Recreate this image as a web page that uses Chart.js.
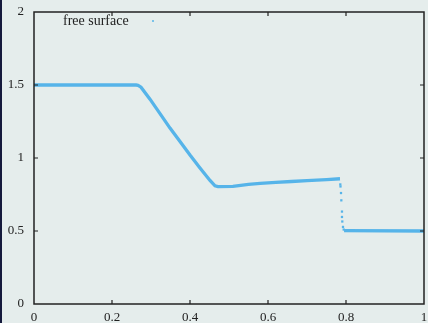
<!DOCTYPE html>
<html>
<head>
<meta charset="utf-8">
<script src="https://cdn.jsdelivr.net/npm/chart.js@4/dist/chart.umd.min.js"></script>
<style>
  html, body { margin: 0; padding: 0; background: #e5edec; }
  #wrap { position: relative; width: 428px; height: 323px; overflow: hidden; }
  #edge { position: absolute; left: 0; top: 0; width: 2px; height: 323px; background: #151a3c; }
  canvas { position: absolute; left: 0; top: 0; }
</style>
</head>
<body>
<div id="wrap">
  <canvas id="c" width="428" height="323"></canvas>
  <div id="edge"></div>
</div>
<script>
// Free-surface height h along the channel (dam-break profile)
const surfaceX = [0, 0.262, 0.2667, 0.2744, 0.2821, 0.2974, 0.3231, 0.3487, 0.3744, 0.4, 0.4256, 0.4513, 0.4641, 0.4718,
                  0.51, 0.53, 0.55, 0.58, 0.62, 0.66, 0.70, 0.75, 0.7846, 0.79, 0.795, 1.0];
const surfaceH = [1.5, 1.5, 1.498, 1.485, 1.457, 1.403, 1.304, 1.205, 1.113, 1.020, 0.932, 0.846, 0.809, 0.804,
                  0.805, 0.812, 0.819, 0.826, 0.833, 0.839, 0.845, 0.852, 0.858, null, 0.503, 0.5];
// Scattered particles inside the bore front
const frontX = [0.7854, 0.7859, 0.7872, 0.788, 0.7897, 0.7897, 0.7905, 0.7923, 0.7941];
const frontH = [0.819, 0.805, 0.760, 0.710, 0.633, 0.596, 0.565, 0.528, 0.510];
// Axis ranges and tick steps
const xRange = [0, 1], xStep = 0.2;
const yRange = [0, 2], yStep = 0.5;
const seriesLabel = 'free surface';

const lineColor = '#56b4e9';
const inkColor = '#222222';
const serif = "'Liberation Serif', 'Times New Roman', serif";

const toPoints = (xs, ys) => xs.map((x, i) => ({ x: x, y: ys[i] }));
const plainNumber = v => String(+Number(v).toFixed(3));

// Frame, inward tick marks on all four sides, and a key drawn inside the plot
const framePlugin = {
  id: 'frame',
  afterDraw(chart) {
    const { ctx, chartArea: a, scales } = chart;
    ctx.save();
    ctx.strokeStyle = inkColor;
    ctx.lineWidth = 1.5;
    ctx.strokeRect(a.left, a.top, a.right - a.left, a.bottom - a.top);
    ctx.lineWidth = 1.2;
    const len = 4;
    ctx.beginPath();
    scales.x.ticks.forEach(t => {
      if (t.value <= xRange[0] || t.value >= xRange[1]) return;
      const px = scales.x.getPixelForValue(t.value);
      ctx.moveTo(px, a.bottom); ctx.lineTo(px, a.bottom - len);
      ctx.moveTo(px, a.top); ctx.lineTo(px, a.top + len);
    });
    scales.y.ticks.forEach(t => {
      if (t.value <= yRange[0] || t.value >= yRange[1]) return;
      const py = scales.y.getPixelForValue(t.value);
      ctx.moveTo(a.left, py); ctx.lineTo(a.left + len, py);
      ctx.moveTo(a.right, py); ctx.lineTo(a.right - len, py);
    });
    ctx.stroke();

    // key
    ctx.font = '14px ' + serif;
    ctx.fillStyle = inkColor;
    ctx.textBaseline = 'alphabetic';
    ctx.textAlign = 'left';
    ctx.fillText(chart.data.datasets[0].label, 63, 25);
    ctx.fillStyle = lineColor;
    ctx.beginPath();
    ctx.arc(153, 21, 1, 0, Math.PI * 2);
    ctx.fill();
    ctx.restore();
  }
};

// Fixed scale boxes so the plot area sits at a fixed place
function fixBox(size, key) {
  return function (scale) {
    scale[key] = size;
    scale.paddingLeft = 0; scale.paddingRight = 0;
    scale.paddingTop = 0; scale.paddingBottom = 0;
  };
}

new Chart(document.getElementById('c'), {
  type: 'scatter',
  data: {
    datasets: [
      {
        label: seriesLabel,
        data: toPoints(surfaceX, surfaceH),
        showLine: true,
        spanGaps: false,
        borderColor: lineColor,
        borderWidth: 3.3,
        pointRadius: 0,
        tension: 0
      },
      {
        label: seriesLabel + ' front',
        data: toPoints(frontX, frontH),
        showLine: false,
        backgroundColor: lineColor,
        borderColor: lineColor,
        borderWidth: 0,
        pointStyle: 'rect',
        pointRadius: 1.6
      }
    ]
  },
  options: {
    responsive: false,
    animation: false,
    devicePixelRatio: 1,
    layout: { padding: { top: 12, right: 4, left: 0, bottom: 0 } },
    plugins: { legend: { display: false }, tooltip: { enabled: false } },
    scales: {
      x: {
        type: 'linear',
        min: xRange[0], max: xRange[1],
        grid: { display: false, drawTicks: false },
        border: { display: false },
        ticks: { stepSize: xStep, padding: 6, color: inkColor, font: { family: serif, size: 13 },
                 maxRotation: 0, callback: plainNumber },
        afterFit: fixBox(19, 'height')
      },
      y: {
        type: 'linear',
        min: yRange[0], max: yRange[1],
        grid: { display: false, drawTicks: false },
        border: { display: false },
        ticks: { stepSize: yStep, padding: 10, color: inkColor, font: { family: serif, size: 13 },
                 callback: plainNumber },
        afterFit: fixBox(34, 'width')
      }
    }
  },
  plugins: [framePlugin]
});
</script>
</body>
</html>
